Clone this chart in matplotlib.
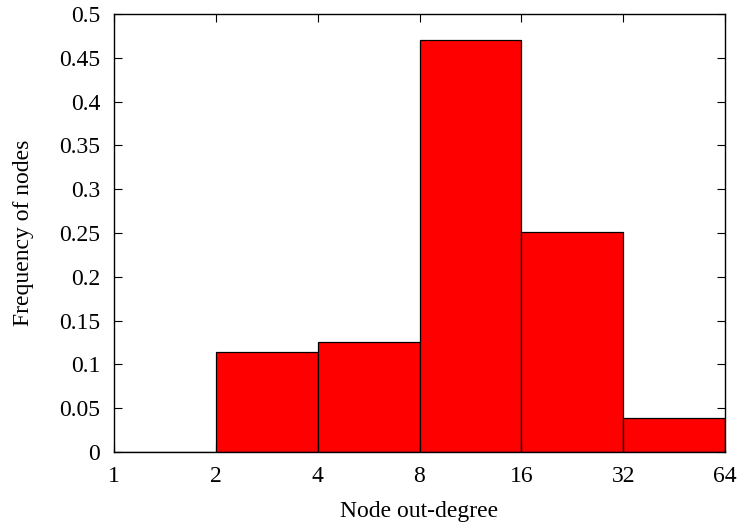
import numpy as np
import matplotlib
matplotlib.use('Agg')
import matplotlib.pyplot as plt

plt.rcParams['font.family'] = ['Liberation Serif', 'DejaVu Serif']

# histogram bins on log2 scale and frequencies
bin_edges = [1, 2, 4, 8, 16, 32, 64]
freqs = [0.0, 0.114, 0.1255, 0.470, 0.251, 0.0385]
xticks = [1, 2, 4, 8, 16, 32, 64]
yticks = [0, 0.05, 0.1, 0.15, 0.2, 0.25, 0.3, 0.35, 0.4, 0.45, 0.5]

fig = plt.figure(figsize=(7.37, 5.24), dpi=100)
ax = fig.add_axes([114/737, 1-452/524, (725-114)/737, (452-14)/524])

lefts = np.array(bin_edges[:-1])
widths = np.array(bin_edges[1:]) - lefts
ax.bar(lefts, freqs, width=widths, align='edge', color='#ff0000',
       edgecolor='black', linewidth=0.9)

ax.set_xscale('log', base=2)
ax.set_xlim(1, 64)
ax.set_ylim(0, 0.5)
ax.set_xticks(xticks)
ax.set_xticklabels([str(t) for t in xticks])
ax.minorticks_off()
ax.set_yticks(yticks)
ax.set_yticklabels(['0', '0.05', '0.1', '0.15', '0.2', '0.25', '0.3', '0.35', '0.4', '0.45', '0.5'])
ax.tick_params(direction='in', top=True, right=True, length=6, width=0.8,
               labelsize=17)
ax.tick_params(axis='y', pad=10)
ax.tick_params(axis='x', pad=10)
for s in ax.spines.values():
    s.set_linewidth(1.0)

ax.set_xlabel('Node out-degree', fontsize=17, labelpad=10)
ax.set_ylabel('Frequency of nodes', fontsize=17, labelpad=18)

fig.savefig('out.png', dpi=100)
